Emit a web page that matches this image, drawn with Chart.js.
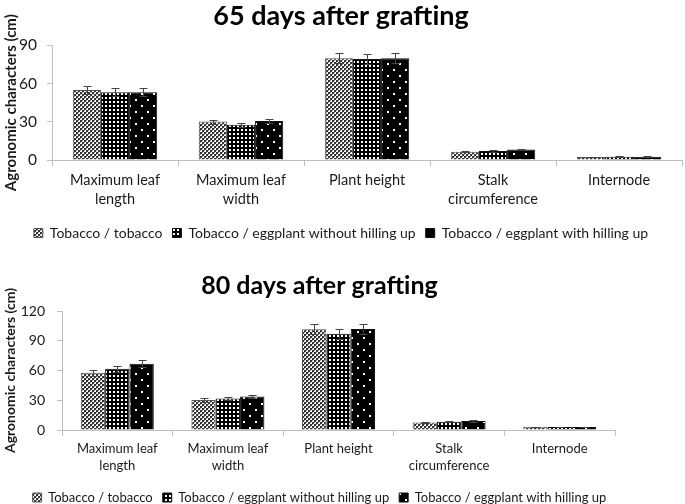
<!DOCTYPE html>
<html>
<head>
<meta charset="utf-8">
<script src="https://cdn.jsdelivr.net/npm/chart.js@4"></script>
<style>
  body { margin: 0; background: #fff; overflow: hidden; }
  #wrap { position: relative; width: 685px; height: 504px; overflow: hidden; }
  #c65 { position: absolute; left: 0; top: 0; }
  #c80 { position: absolute; left: 0; top: 250px; }
</style>
</head>
<body>
<div id="wrap">
  <canvas id="c65" width="685" height="250"></canvas>
  <canvas id="c80" width="685" height="264"></canvas>
</div>
<script>
// categories and series
const categories = [["Maximum leaf", "length"], ["Maximum leaf", "width"], "Plant height", ["Stalk", "circumference"], "Internode"];
const seriesNames = ["Tobacco / tobacco", "Tobacco / eggplant without hilling up", "Tobacco / eggplant with hilling up"];

// 65 days after grafting
const d65TobTob = [55, 30.2, 80, 6.5, 2.3];
const d65EggNoHill = [53.3, 27.6, 79.3, 7, 2.5];
const d65EggHill = [53.3, 30.7, 80, 8.2, 2.6];
const err65TobTob = [3, 1.6, 4, 0.5, 0.3];
const err65EggNoHill = [3, 1.5, 4, 0.5, 0.3];
const err65EggHill = [3, 1.6, 4, 0.6, 0.3];
const yTicks65 = [0, 30, 60, 90];

// 80 days after grafting
const d80TobTob = [57.8, 30.3, 101.5, 7.5, 3.2];
const d80EggNoHill = [61.8, 31.7, 97, 8.3, 3];
const d80EggHill = [66.8, 33.7, 101.8, 9, 2.9];
const err80TobTob = [3, 1.7, 5, 0.6, 0.3];
const err80EggNoHill = [3.2, 1.7, 5, 0.6, 0.3];
const err80EggHill = [3.6, 1.8, 5, 0.6, 0.3];
const yTicks80 = [0, 30, 60, 90, 120];

const FONT = "Lato, 'Liberation Sans', sans-serif";
const TEXT = "#1a1a1a";
const AXIS = "#bfbfbf";

// fill patterns like the excel original
function makePattern(kind) {
  const c = document.createElement("canvas");
  const g = c.getContext("2d");
  if (kind === 0) {
    c.width = 4; c.height = 4;
    g.fillStyle = "#fff"; g.fillRect(0, 0, 4, 4);
    g.fillStyle = "#333";
    g.fillRect(0, 0, 2, 2); g.fillRect(2, 2, 2, 2);
    g.fillStyle = "#999";
    g.fillRect(2, 0, 1, 1); g.fillRect(0, 2, 1, 1);
  } else if (kind === 1) {
    c.width = 4; c.height = 4;
    g.fillStyle = "#000"; g.fillRect(0, 0, 4, 4);
    g.fillStyle = "#fff"; g.fillRect(1, 1, 2, 2);
  } else {
    c.width = 12; c.height = 12;
    g.fillStyle = "#000"; g.fillRect(0, 0, 12, 12);
    g.fillStyle = "#fff";
    g.fillRect(3, 3, 2, 2); g.fillRect(9, 9, 2, 2);
  }
  return g.createPattern(c, "repeat");
}
const fills = [makePattern(0), makePattern(1), makePattern(2)];

// error bars drawn from each dataset's errors array
const errorBars = {
  id: "errorBars",
  afterDatasetsDraw(chart) {
    const ctx = chart.ctx;
    const y = chart.scales.y;
    ctx.save();
    ctx.strokeStyle = "#444";
    ctx.lineWidth = 1;
    chart.data.datasets.forEach((ds, i) => {
      chart.getDatasetMeta(i).data.forEach((bar, j) => {
        const v = ds.data[j], e = ds.errors[j];
        const top = Math.round(y.getPixelForValue(v + e)) + 0.5;
        const bot = Math.round(y.getPixelForValue(v - e)) + 0.5;
        const x = Math.round(bar.x) + 0.5;
        ctx.beginPath();
        ctx.moveTo(x, top); ctx.lineTo(x, bot);
        ctx.moveTo(x - 4, top); ctx.lineTo(x + 4, top);
        ctx.moveTo(x - 4, bot); ctx.lineTo(x + 4, bot);
        ctx.stroke();
      });
    });
    ctx.restore();
  }
};

function makeChart(canvas, cfg) {
  const datasets = cfg.series.map((data, i) => ({
    label: seriesNames[i],
    data: data,
    errors: cfg.errors[i],
    backgroundColor: fills[i],
    borderColor: i === 0 ? "#555" : "#111",
    borderWidth: 1,
    categoryPercentage: cfg.catPct,
    barPercentage: 1.0
  }));
  const scales = {
    x: {
      afterFit: s => { s.height = cfg.xHeight; },
      grid: { offset: true, drawOnChartArea: false, drawTicks: true, tickLength: 6, color: AXIS },
      border: { color: AXIS },
      ticks: { color: TEXT, font: { family: FONT, size: cfg.fs, lineHeight: cfg.lh }, padding: cfg.xPad, maxRotation: 0 }
    },
    y: {
      min: 0,
      max: cfg.yTicks[cfg.yTicks.length - 1],
      afterBuildTicks: s => { s.ticks = cfg.yTicks.map(v => ({ value: v })); },
      afterFit: s => { s.width = cfg.axisX; },
      grid: { drawOnChartArea: false, tickLength: 5, color: AXIS },
      border: { color: AXIS },
      ticks: { color: TEXT, font: { family: FONT, size: cfg.fs + 1 }, padding: cfg.yPad },
      title: {
        display: true,
        text: "Agronomic characters (cm)",
        color: TEXT,
        font: { family: FONT, size: cfg.yTitleSize, weight: "bold" },
        padding: { top: 2, bottom: 0 }
      }
    }
  };
  if (cfg.rightGap) {
    scales.yr = {
      position: "right",
      grid: { display: false },
      border: { display: false },
      ticks: { display: false },
      afterFit: s => { s.width = cfg.rightGap; }
    };
  }
  return new Chart(canvas, {
    type: "bar",
    data: { labels: categories, datasets: datasets },
    options: {
      responsive: false,
      animation: false,
      layout: { padding: { left: 0, right: cfg.padRight, top: 0, bottom: 0 } },
      scales: scales,
      plugins: {
        title: {
          display: true,
          text: cfg.title,
          color: "#000",
          font: { family: FONT, size: cfg.titleSize, weight: "bold" },
          padding: { top: cfg.titleTop, bottom: cfg.titleBottom }
        },
        legend: {
          position: "bottom",
          labels: {
            color: TEXT,
            font: { family: FONT, size: cfg.legendSize },
            boxWidth: 9,
            boxHeight: 9,
            padding: 10
          }
        },
        tooltip: { enabled: false }
      }
    },
    plugins: [errorBars]
  });
}

makeChart(document.getElementById("c65"), {
  title: "65 days after grafting",
  series: [d65TobTob, d65EggNoHill, d65EggHill],
  errors: [err65TobTob, err65EggNoHill, err65EggHill],
  yTicks: yTicks65,
  catPct: 0.67,
  fs: 14.5, lh: 1.31, xPad: 5, yPad: 10, xHeight: 56,
  axisX: 52, padRight: 3,
  yTitleSize: 15, titleSize: 27, titleTop: 0, titleBottom: 13,
  legendSize: 14
});

makeChart(document.getElementById("c80"), {
  title: "80 days after grafting",
  series: [d80TobTob, d80EggNoHill, d80EggHill],
  errors: [err80TobTob, err80EggNoHill, err80EggHill],
  yTicks: yTicks80,
  catPct: 0.66,
  fs: 13, lh: 1.31, xPad: 4, yPad: 12, xHeight: 51,
  axisX: 62, padRight: 46, rightGap: 24,
  yTitleSize: 14, titleSize: 25, titleTop: 21, titleBottom: 10,
  legendSize: 13
});
</script>
</body>
</html>
